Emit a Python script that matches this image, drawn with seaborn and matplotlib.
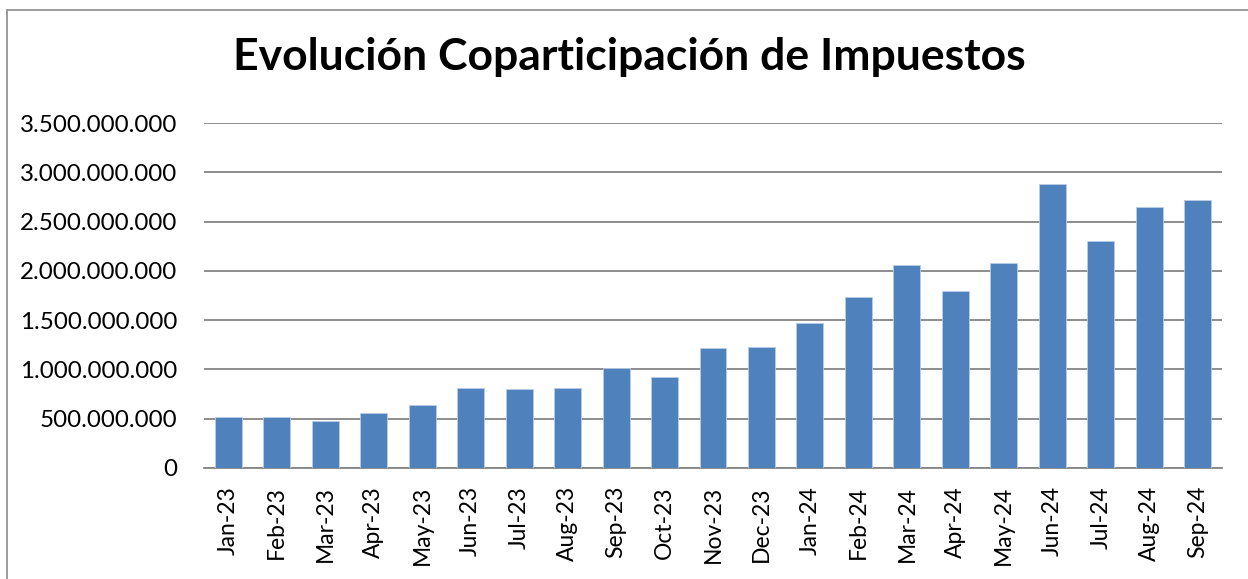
import numpy as np
import pandas as pd
import matplotlib
matplotlib.use("Agg")
import matplotlib.pyplot as plt
import seaborn as sns
from matplotlib.ticker import FuncFormatter, MultipleLocator

# ==============================================================================
# DATOS
# ==============================================================================
meses = ["Jan-23", "Feb-23", "Mar-23", "Apr-23", "May-23", "Jun-23", "Jul-23",
         "Aug-23", "Sep-23", "Oct-23", "Nov-23", "Dec-23", "Jan-24", "Feb-24",
         "Mar-24", "Apr-24", "May-24", "Jun-24", "Jul-24", "Aug-24", "Sep-24"]
coparticipacion = [517e6, 517e6, 476e6, 561e6, 635e6, 807e6, 801e6,
                   807e6, 1010e6, 926e6, 1216e6, 1223e6, 1470e6, 1737e6,
                   2061e6, 1794e6, 2081e6, 2885e6, 2301e6, 2652e6, 2716e6]
titulo = "Evolución Coparticipación de Impuestos"

df = pd.DataFrame({"mes": meses, "monto": coparticipacion})

# ==============================================================================
# ESTILO
# ==============================================================================
sns.set_style("white")
plt.rcParams["font.family"] = ["Lato", "DejaVu Sans"]

W, H = 1248, 579
fig = plt.figure(figsize=(W / 100, H / 100), dpi=100)
ax = fig.add_axes([204 / W, 1 - 468 / H, (1222 - 204) / W, (468 - 123) / H])

sns.barplot(data=df, x="mes", y="monto", color="#4F81BD", saturation=1,
            width=0.556, edgecolor="#B9CDE5", linewidth=0.6, ax=ax, zorder=3)

ax.set_xlim(-0.5, len(meses) - 0.5)
ax.set_ylim(0, 3.5e9)
ax.yaxis.set_major_locator(MultipleLocator(5e8))
ax.yaxis.set_major_formatter(FuncFormatter(lambda v, _: f"{v:,.0f}".replace(",", ".")))
ax.grid(axis="y", color="#858585", linewidth=1.3, zorder=0)
ax.set_axisbelow(True)

for lado in ["top", "right", "left"]:
    ax.spines[lado].set_visible(False)
ax.spines["bottom"].set_color("#858585")
ax.spines["bottom"].set_linewidth(1.3)

ax.set_xlabel("")
ax.set_ylabel("")
ax.tick_params(axis="y", length=0, pad=19, labelsize=17.4, labelcolor="black")
ax.tick_params(axis="x", length=0, pad=13, labelsize=16.5, labelcolor="black",
               labelrotation=90)

fig.text(629 / W, 1 - 57 / H, titulo, ha="center", va="center",
         fontsize=32, fontweight="bold", color="black")

# marco del gráfico (solo se ven el borde superior e izquierdo)
fig.add_artist(plt.Line2D([7 / W, 7 / W], [0, 1 - 10 / H], color="#8c8c8c", lw=1.2))
fig.add_artist(plt.Line2D([7 / W, 1], [1 - 10 / H, 1 - 10 / H], color="#8c8c8c", lw=1.2))

fig.savefig("out.png", dpi=100)
plt.close(fig)
